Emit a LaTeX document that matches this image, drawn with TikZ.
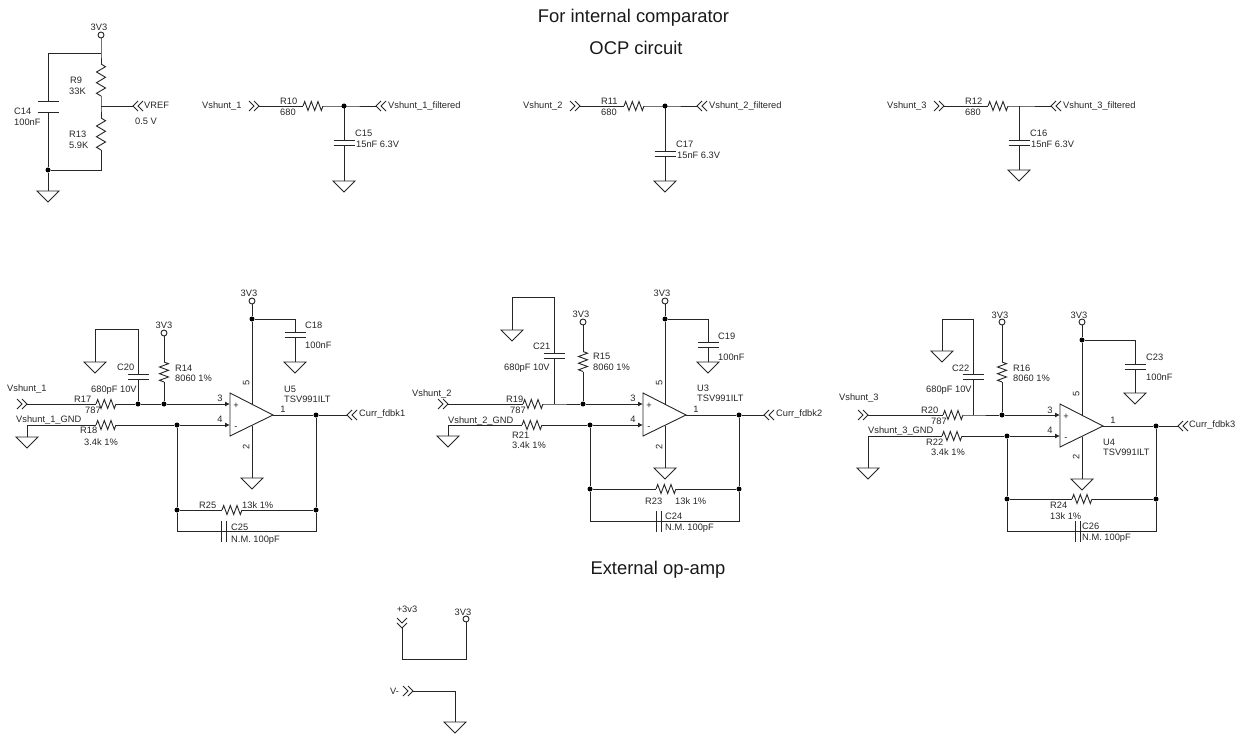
\documentclass[tikz,border=0pt]{standalone}
\usepackage{fontspec}
\usetikzlibrary{arrows.meta}
\setmainfont{Liberation Sans}

\tikzstyle{wire}=[line width=0.9pt,black!85]
\tikzstyle{lbl}=[anchor=west,inner sep=0pt,text height=6.7pt,text depth=0pt,font=\fontsize{9.3}{11}\selectfont,black!85]
\tikzstyle{mid}=[lbl,anchor=center]
\tikzstyle{pinnr}=[mid,rotate=90]
\tikzstyle{title}=[anchor=center,inner sep=0pt,font=\fontsize{18.4}{22}\selectfont,black!90]
\tikzstyle{jct}=[circle,fill=black,inner sep=0pt,minimum size=5pt]
\tikzstyle{pwr}=[circle,draw,line width=0.9pt,black!85,inner sep=0pt,minimum size=6pt]

\tikzset{
	gndsym/.pic={
		\coordinate (-a) at (0,0);
		\draw[wire] (-11,0) -- (11,0) -- (0,11) -- cycle;
	},
	resist/.pic={
		\coordinate (-a) at (-10,0);
		\coordinate (-b) at (10,0);
		\draw[wire] (-10,0) -- (-8.3,-4.5) -- (-5,4.5) -- (-1.7,-4.5) -- (1.7,4.5) -- (5,-4.5) -- (8.3,4.5) -- (10,0);
	},
	capac/.pic={
		\coordinate (-a) at (0,-2.5);
		\coordinate (-b) at (0,2.5);
		\draw[wire] (-10.5,-2.5) -- (10.5,-2.5);
		\draw[wire] (-10.5,2.5) -- (10.5,2.5);
	},
	chevron/.pic={
		\coordinate (-a) at (0,0);
		\draw[wire] (-10,-5) -- (-5,0) -- (-10,5);
		\draw[wire] (-5,-5) -- (0,0) -- (-5,5);
	},
	opamp/.pic={
		\coordinate (-out) at (0,0);
		\coordinate (-p) at (-43,-11);
		\coordinate (-n) at (-43,10);
		\coordinate (-top) at (-21,-11);
		\coordinate (-bot) at (-21,11);
		\draw[wire] (-43,-22) -- (0,0) -- (-43,21) -- cycle;
		\node[mid] (-plus) at (-37,-10) {+};
		\node[mid] (-minus) at (-37,11) {-};
	}
}

\begin{document}
\begin{tikzpicture}[x=1pt,y=-1pt,>={Latex[length=5pt,width=5pt]}]
	\path[use as bounding box] (0,0) rectangle (1244,738);

	\node[title] (head1) at (633.5,18) {For internal comparator};
	\node[title] (head2) at (636,48) {OCP circuit};
	\node[title] (head3) at (658,570) {External op-amp};

	% VREF divider
	\node[mid] (t3V3a) at (99,27) {3V3};
	\node[pwr] (P1) at (101,35) {};
	\coordinate (N1) at (101,53);
	\coordinate (N2) at (48,53);
	\coordinate (N3) at (101,106);
	\node[jct] (J1) at (48,170) {};
	\coordinate (N4) at (101,170);
	\pic[rotate=90,xscale=1.6] (R9) at (101,80) {resist};
	\pic[rotate=90,xscale=1.6] (R13) at (101,134) {resist};
	\pic[yscale=2.2] (C14) at (48,106.5) {capac};
	\pic (G1) at (48,191) {gndsym};
	\pic[rotate=180] (VREF) at (133,106) {chevron};
	\draw[wire] (P1) -- (N1) -- (R9-b);
	\draw[wire] (R9-a) -- (N3) -- (R13-b);
	\draw[wire] (R13-a) -- (N4) -- (J1) -- (G1-a);
	\draw[wire] (N1) -- (N2) -- (C14-a);
	\draw[wire] (C14-b) -- (J1);
	\draw[wire] (N3) -- (VREF-a);
	\node[lbl] (tR9) at (70,80) {R9};
	\node[lbl] (vR9) at (69,91) {33K};
	\node[lbl] (tR13) at (69,134) {R13};
	\node[lbl] (vR13) at (69,145) {5.9K};
	\node[lbl] (tC14) at (14,111) {C14};
	\node[lbl] (vC14) at (14,122) {100nF};
	\node[lbl] (tVREF) at (144,105) {VREF};
	\node[lbl] (vVREF) at (135,121) {0.5 V};

	% input filters
	\foreach \nr/\rn/\cn/\dx/\cy/\gy/\tx in {1/10/15/0/0/0/0, 2/11/17/321/11/0/0, 3/12/16/675/0/-11/10}{
		\node[lbl] (V\nr) at (202+\dx+\tx,105) {Vshunt\_\nr};
		\pic (IN\nr) at (259+\dx+\tx,106) {chevron};
		\pic (R\rn) at (313+\dx+\tx,106) {resist};
		\coordinate (F\nr) at (344+\dx,106);
		\pic[rotate=180] (OUT\nr) at (376+\dx,106) {chevron};
		\pic (C\cn) at (344+\dx,143+\cy) {capac};
		\pic (GF\nr) at (344+\dx,181+\gy) {gndsym};
		\draw[wire] (IN\nr-a) -- (R\rn-a);
		\draw[wire] (R\rn-b) -- (F\nr) -- (OUT\nr-a);
		\draw[wire] (F\nr) -- (C\cn-a);
		\draw[wire] (C\cn-b) -- (GF\nr-a);
		\node[lbl] (tR\rn) at (280+\dx+\tx,101) {R\rn};
		\node[lbl] (vR\rn) at (280+\dx+\tx,112) {680};
		\node[lbl] (tC\cn) at (355+\dx,133+\cy) {C\cn};
		\node[lbl] (vC\cn) at (356+\dx,144+\cy) {15nF 6.3V};
		\node[lbl] (tOUT\nr) at (388+\dx,105) {Vshunt\_\nr\_filtered};
	}
	\node[jct] (JF1) at (F1) {};
	\node[jct] (JF2) at (F2) {};

	% current sense amplifier 1
	\pic (U5) at (273,415) {opamp};
	\node[mid] (t3V3b) at (249,293) {3V3};
	\node[pwr] (P2) at (252,301) {};
	\node[jct] (J2) at (252,319) {};
	\pic (C18) at (295,334.5) {capac};
	\pic (G2) at (295,362) {gndsym};
	\pic (G3) at (252,478) {gndsym};
	\draw[wire] (P2) -- (J2) -- (U5-top);
	\draw[wire] (J2) -| (C18-a);
	\draw[wire] (C18-b) -- (G2-a);
	\draw[wire] (U5-bot) -- (G3-a);
	\pic (IN4) at (27,404) {chevron};
	\pic (R17) at (106,404) {resist};
	\node[jct] (J3) at (138,404) {};
	\node[mid] (t3V3c) at (164,325) {3V3};
	\node[pwr] (P3) at (164,333) {};
	\node[jct] (J4) at (164,404) {};
	\pic[rotate=90] (R14) at (164,372) {resist};
	\pic (C20) at (138,376.5) {capac};
	\coordinate (N5) at (138,329);
	\pic (G4) at (95,362) {gndsym};
	\draw[wire] (IN4-a) -- (R17-a);
	\draw[wire,->] (R17-b) -- (J3) -- (J4) -- (U5-p);
	\draw[wire] (P3) -- (R14-b);
	\draw[wire] (R14-a) -- (J4);
	\draw[wire] (J3) -- (C20-b);
	\draw[wire] (C20-a) -- (N5) -| (G4-a);
	\pic (G5) at (27,437) {gndsym};
	\pic (R18) at (106,425) {resist};
	\node[jct] (J5) at (177,425) {};
	\node[jct] (J6) at (177,510) {};
	\node[jct] (J7) at (316,415) {};
	\node[jct] (J8) at (316,510) {};
	\coordinate (N6) at (177,531);
	\coordinate (N7) at (316,531);
	\pic (R25) at (232,510) {resist};
	\pic[rotate=90] (C25) at (224,531) {capac};
	\pic[rotate=180] (FB1) at (347,415) {chevron};
	\draw[wire] (G5-a) |- (R18-a);
	\draw[wire,->] (R18-b) -- (J5) -- (U5-n);
	\draw[wire] (J5) -- (J6) -- (N6) -- (C25-b);
	\draw[wire] (C25-a) -- (N7) -- (J8) -- (J7);
	\draw[wire] (J6) -- (R25-a);
	\draw[wire] (R25-b) -- (J8);
	\draw[wire] (U5-out) -- (J7) -- (FB1-a);
	\node[lbl] (tV4) at (7,388) {Vshunt\_1};
	\node[lbl] (tG5) at (16,419) {Vshunt\_1\_GND};
	\node[lbl] (tR17) at (74,399) {R17};
	\node[lbl] (vR17) at (85,410) {787};
	\node[lbl] (tR18) at (80,430) {R18};
	\node[lbl] (vR18) at (84,442) {3.4k 1\%};
	\node[lbl] (tC20) at (117,367) {C20};
	\node[lbl] (vC20) at (91,389) {680pF 10V};
	\node[lbl] (tR14) at (175,368) {R14};
	\node[lbl] (vR14) at (175,378) {8060 1\%};
	\node[lbl] (tC18) at (305,325) {C18};
	\node[lbl] (vC18) at (305,345) {100nF};
	\node[mid] (p3a) at (220,398) {3};
	\node[mid] (p4a) at (220,419) {4};
	\node[pinnr] (p5a) at (246,383) {5};
	\node[pinnr] (p2a) at (246,447) {2};
	\node[mid] (p1a) at (283,409) {1};
	\node[lbl] (tU5) at (284,389) {U5};
	\node[lbl] (vU5) at (284,399) {TSV991ILT};
	\node[lbl] (tFB1) at (359,413) {Curr\_fdbk1};
	\node[lbl] (tR25) at (199,505) {R25};
	\node[lbl] (vR25) at (242,505) {13k 1\%};
	\node[lbl] (tC25) at (231,527) {C25};
	\node[lbl] (vC25) at (231,539) {N.M. 100pF};

	% current sense amplifier 2
	\pic (U3) at (686,415) {opamp};
	\node[mid] (t3V3d) at (662,293) {3V3};
	\node[pwr] (P4) at (665,301) {};
	\node[jct] (J9) at (665,319) {};
	\pic (C19) at (708,344.5) {capac};
	\pic (G6) at (708,362) {gndsym};
	\pic (G7) at (665,468) {gndsym};
	\draw[wire] (P4) -- (J9) -- (U3-top);
	\draw[wire] (J9) -| (C19-a);
	\draw[wire] (C19-b) -- (G6-a);
	\draw[wire] (U3-bot) -- (G7-a);
	\pic (IN5) at (448,404) {chevron};
	\pic (R19) at (533,404) {resist};
	\coordinate (N8) at (554,404);
	\node[mid] (t3V3e) at (581,314) {3V3};
	\node[pwr] (P5) at (583,322) {};
	\node[jct] (J10) at (583,404) {};
	\pic[rotate=90] (R15) at (583,361.5) {resist};
	\pic (C21) at (554,355.5) {capac};
	\coordinate (N9) at (554,297);
	\pic (G8) at (512,330) {gndsym};
	\draw[wire] (IN5-a) -- (R19-a);
	\draw[wire,->] (R19-b) -- (N8) -- (J10) -- (U3-p);
	\draw[wire] (P5) -- (R15-b);
	\draw[wire] (R15-a) -- (J10);
	\draw[wire] (N8) -- (C21-b);
	\draw[wire] (C21-a) -- (N9) -| (G8-a);
	\pic (G9) at (448,436) {gndsym};
	\pic (R21) at (532,425) {resist};
	\node[jct] (J11) at (590,425) {};
	\node[jct] (J12) at (590,489) {};
	\node[jct] (J13) at (739,415) {};
	\node[jct] (J14) at (739,489) {};
	\coordinate (N10) at (590,521);
	\coordinate (N11) at (739,521);
	\pic (R23) at (666,489) {resist};
	\pic[rotate=90] (C24) at (659,521) {capac};
	\pic[rotate=180] (FB2) at (764,415) {chevron};
	\draw[wire] (G9-a) |- (R21-a);
	\draw[wire,->] (R21-b) -- (J11) -- (U3-n);
	\draw[wire] (J11) -- (J12) -- (N10) -- (C24-b);
	\draw[wire] (C24-a) -- (N11) -- (J14) -- (J13);
	\draw[wire] (J12) -- (R23-a);
	\draw[wire] (R23-b) -- (J14);
	\draw[wire] (U3-out) -- (J13) -- (FB2-a);
	\node[lbl] (tV5) at (412,393) {Vshunt\_2};
	\node[lbl] (tG9) at (448,420) {Vshunt\_2\_GND};
	\node[lbl] (tR19) at (506,399) {R19};
	\node[lbl] (vR19) at (510,410) {787};
	\node[lbl] (tR21) at (512,435) {R21};
	\node[lbl] (vR21) at (512,445) {3.4k 1\%};
	\node[lbl] (tC21) at (533,346) {C21};
	\node[lbl] (vC21) at (504,367) {680pF 10V};
	\node[lbl] (tR15) at (593,356) {R15};
	\node[lbl] (vR15) at (593,367) {8060 1\%};
	\node[lbl] (tC19) at (718,336) {C19};
	\node[lbl] (vC19) at (718,357) {100nF};
	\node[mid] (p3b) at (633,398) {3};
	\node[mid] (p4b) at (633,419) {4};
	\node[pinnr] (p5b) at (659,383) {5};
	\node[pinnr] (p2b) at (659,447) {2};
	\node[mid] (p1b) at (696,409) {1};
	\node[lbl] (tU3) at (697,388) {U3};
	\node[lbl] (vU3) at (697,398) {TSV991ILT};
	\node[lbl] (tFB2) at (776,413) {Curr\_fdbk2};
	\node[lbl] (tR23) at (645,501) {R23};
	\node[lbl] (vR23) at (675,501) {13k 1\%};
	\node[lbl] (tC24) at (665,516) {C24};
	\node[lbl] (vC24) at (665,527) {N.M. 100pF};

	% current sense amplifier 3
	\pic (U4) at (1103,426) {opamp};
	\node[mid] (t3V3f) at (1079,315) {3V3};
	\node[pwr] (P6) at (1082,322) {};
	\node[jct] (J15) at (1082,340) {};
	\pic (C23) at (1135,366.5) {capac};
	\pic (G10) at (1135,393) {gndsym};
	\pic (G11) at (1082,479) {gndsym};
	\draw[wire] (P6) -- (J15) -- (U4-top);
	\draw[wire] (J15) -| (C23-a);
	\draw[wire] (C23-b) -- (G10-a);
	\draw[wire] (U4-bot) -- (G11-a);
	\pic (IN6) at (868,415) {chevron};
	\pic (R20) at (953,415) {resist};
	\coordinate (N12) at (973,415);
	\node[mid] (t3V3g) at (1000,315) {3V3};
	\node[pwr] (P7) at (1002,322) {};
	\node[jct] (J16) at (1002,415) {};
	\pic[rotate=90] (R16) at (1002,372) {resist};
	\pic (C22) at (973,377) {capac};
	\coordinate (N13) at (973,319);
	\pic (G12) at (942,351) {gndsym};
	\draw[wire] (IN6-a) -- (R20-a);
	\draw[wire,->] (R20-b) -- (N12) -- (J16) -- (U4-p);
	\draw[wire] (P7) -- (R16-b);
	\draw[wire] (R16-a) -- (J16);
	\draw[wire] (N12) -- (C22-b);
	\draw[wire] (C22-a) -- (N13) -| (G12-a);
	\pic (G13) at (868,468) {gndsym};
	\pic (R22) at (952,436) {resist};
	\node[jct] (J17) at (1007,436) {};
	\node[jct] (J18) at (1007,499) {};
	\node[jct] (J19) at (1156,426) {};
	\node[jct] (J20) at (1156,499) {};
	\coordinate (N14) at (1007,531);
	\coordinate (N15) at (1156,531);
	\pic (R24) at (1082,499) {resist};
	\pic[rotate=90] (C26) at (1078,531) {capac};
	\pic[rotate=180] (FB3) at (1178,426) {chevron};
	\draw[wire] (G13-a) |- (R22-a);
	\draw[wire,->] (R22-b) -- (J17) -- (U4-n);
	\draw[wire] (J17) -- (J18) -- (N14) -- (C26-b);
	\draw[wire] (C26-a) -- (N15) -- (J20) -- (J19);
	\draw[wire] (J18) -- (R24-a);
	\draw[wire] (R24-b) -- (J20);
	\draw[wire] (U4-out) -- (J19) -- (FB3-a);
	\node[lbl] (tV6) at (839,397) {Vshunt\_3};
	\node[lbl] (tG13) at (868,430) {Vshunt\_3\_GND};
	\node[lbl] (tR20) at (921,410) {R20};
	\node[lbl] (vR20) at (931,421) {787};
	\node[lbl] (tR22) at (926,442) {R22};
	\node[lbl] (vR22) at (931,452) {3.4k 1\%};
	\node[lbl] (tC22) at (952,368) {C22};
	\node[lbl] (vC22) at (926,389) {680pF 10V};
	\node[lbl] (tR16) at (1013,368) {R16};
	\node[lbl] (vR16) at (1013,378) {8060 1\%};
	\node[lbl] (tC23) at (1146,357) {C23};
	\node[lbl] (vC23) at (1146,377) {100nF};
	\node[mid] (p3c) at (1050,410) {3};
	\node[mid] (p4c) at (1050,430) {4};
	\node[pinnr] (p5c) at (1076,394) {5};
	\node[pinnr] (p2c) at (1076,457) {2};
	\node[mid] (p1c) at (1113,420) {1};
	\node[lbl] (tU4) at (1103,442) {U4};
	\node[lbl] (vU4) at (1103,452) {TSV991ILT};
	\node[lbl] (tFB3) at (1189,424) {Curr\_fdbk3};
	\node[lbl] (tR24) at (1050,505) {R24};
	\node[lbl] (vR24) at (1050,516) {13k 1\%};
	\node[lbl] (tC26) at (1082,526) {C26};
	\node[lbl] (vC26) at (1082,537) {N.M. 100pF};

	% external op-amp rails
	\node[mid] (tP3v3) at (407,609) {+3v3};
	\pic[rotate=-90] (P3v3) at (402,628) {chevron};
	\node[mid] (t3V3h) at (463,612) {3V3};
	\node[pwr] (P8) at (466,619) {};
	\coordinate (N16) at (402,659);
	\coordinate (N17) at (466,659);
	\draw[wire] (P3v3-a) -- (N16) -- (N17) -- (P8);
	\node[lbl] (tVm) at (390,691) {V-};
	\pic (Vm) at (413,691) {chevron};
	\coordinate (N18) at (455,691);
	\pic (G14) at (455,722) {gndsym};
	\draw[wire] (Vm-a) -- (N18) -- (G14-a);
\end{tikzpicture}
\end{document}
